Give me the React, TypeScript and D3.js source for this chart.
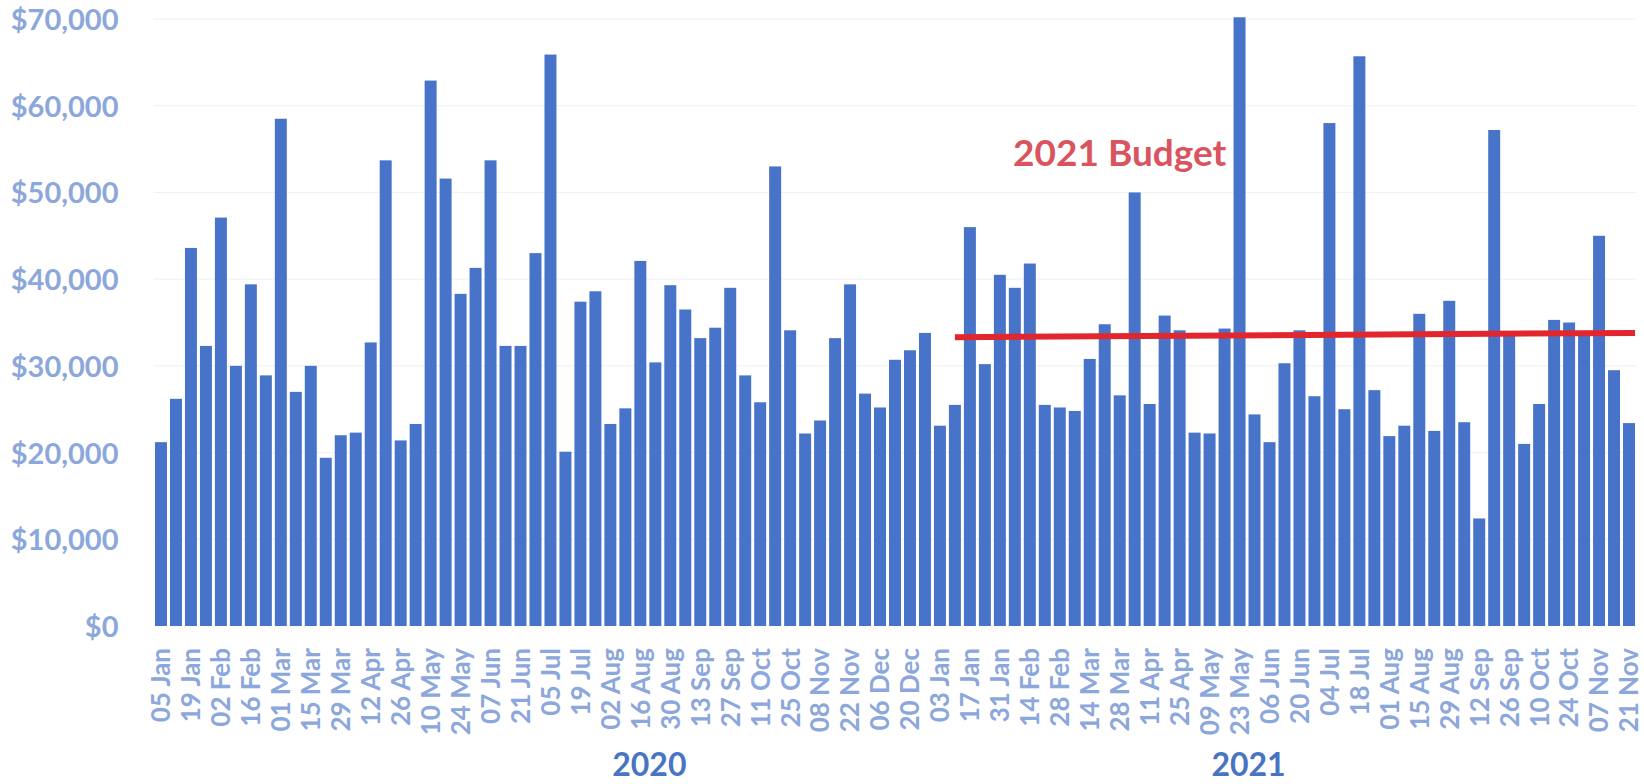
import * as d3 from "d3";
import * as React from "react";

// weekly spend, one bar per week starting Sun 05 Jan 2020
const firstWeek = new Date(Date.UTC(2020, 0, 5));
const weekCount = 99;

const spend = [
    21200, 26200, 43600, 32300, 47100, 30000, 39400, 28900, 58500, 27000,
    30000, 19400, 22000, 22300, 32700, 53700, 21400, 23300, 62900, 51600,
    38300, 41300, 53700, 32300, 32300, 43000, 65900, 20100, 37400, 38600,
    23300, 25100, 42100, 30400, 39300, 36500, 33200, 34400, 39000, 28900,
    25800, 53000, 34100, 22200, 23700, 33200, 39400, 26800, 25200, 30700,
    31800, 33800, 23100, 25500, 46000, 30200, 40500, 39000, 41800, 25500,
    25200, 24800, 30800, 34800, 26600, 50000, 25600, 35800, 34100, 22300,
    22200, 34300, 70200, 24400, 21200, 30300, 34100, 26500, 58000, 25000,
    65700, 27200, 21900, 23100, 36000, 22500, 37500, 23500, 12400, 57200,
    33600, 21000, 25600, 35300, 35000, 33900, 45000, 29500, 23400,
];

const yTicks = [0, 10000, 20000, 30000, 40000, 50000, 60000, 70000];

const budget = [
    { week: "2021-01-10", value: 33300 },
    { week: "2021-11-21", value: 33800 },
];
const budgetLabel = { text: "2021 Budget", week: "2021-03-28", value: 53000 };

const years = [
    { label: "2020", week: "2020-08-23" },
    { label: "2021", week: "2021-05-30" },
];

const width = 1644;
const height = 784;
const font = "Lato, 'Open Sans', sans-serif";

export default class App extends React.Component<{}, {}> {
    mountRef: HTMLDivElement;

    componentDidMount() {
        const iso = d3.utcFormat("%Y-%m-%d");
        const weeks = d3.utcWeek.range(firstWeek, d3.utcWeek.offset(firstWeek, weekCount));
        const data = weeks.map((w, i) => ({ key: iso(w), date: w, value: spend[i] }));

        const x = d3.scaleBand<string>()
            .domain(data.map(d => d.key))
            .range([153.5, 1636.5])
            .paddingInner(0.2)
            .paddingOuter(0.1);

        const y = d3.scaleLinear()
            .domain([0, 70000])
            .range([626, 19]);

        d3.select(this.mountRef).selectAll("*").remove();
        const svg = d3.select(this.mountRef)
            .append("svg")
            .attr("width", width)
            .attr("height", height)
            .style("position", "absolute")
            .style("left", 0)
            .style("top", 0)
            .style("background", "#fff");

        // faint gridlines
        svg.append("g")
            .selectAll("line")
            .data(yTicks.slice(1))
            .join("line")
            .attr("x1", x.range()[0])
            .attr("x2", x.range()[1])
            .attr("y1", d => y(d))
            .attr("y2", d => y(d))
            .attr("stroke", "#eef0f5")
            .attr("stroke-width", 1);

        svg.append("g").call(g => g
            .attr("transform", `translate(${x.range()[0] - 32},0)`)
            .call(d3.axisLeft(y)
                .tickValues(yTicks)
                .tickSize(0)
                .tickFormat((n: number) => d3.format("$,")(n)))
            .call(g => g.selectAll(".domain").remove())
            .call(g => g.selectAll("text")
                .attr("fill", "#8ca7db")
                .attr("font-family", font)
                .attr("font-weight", 700)
                .attr("font-size", 29)
                .attr("dy", "0.36em")));

        svg.append("g")
            .selectAll("rect")
            .data(data)
            .join("rect")
            .attr("x", d => x(d.key)!)
            .attr("width", x.bandwidth())
            .attr("y", d => y(d.value))
            .attr("height", d => y(0) - y(d.value))
            .attr("fill", "#4774c8");

        const fmt = d3.utcFormat("%d %b");
        svg.append("g").call(g => g
            .attr("transform", `translate(0,${y(0) + 22})`)
            .call(d3.axisBottom(x)
                .tickValues(data.filter((d, i) => i % 2 === 0).map(d => d.key))
                .tickSize(0)
                .tickFormat(k => fmt(new Date(k + "T00:00:00Z"))))
            .call(g => g.selectAll(".domain").remove())
            .call(g => g.selectAll("text")
                .attr("fill", "#8ca7db")
                .attr("font-family", font)
                .attr("font-weight", 700)
                .attr("font-size", 26)
                .attr("text-anchor", "end")
                .attr("transform", "rotate(-90)")
                .attr("x", 0)
                .attr("y", 0)
                .attr("dy", "0.36em")));

        svg.append("g")
            .selectAll("text")
            .data(years)
            .join("text")
            .attr("x", d => x(d.week)!)
            .attr("y", 776)
            .attr("text-anchor", "middle")
            .attr("fill", "#4874c4")
            .attr("font-family", font)
            .attr("font-weight", 700)
            .attr("font-size", 32)
            .text(d => d.label);

        const line = d3.line<{ week: string, value: number }>()
            .x((d, i) => i === 0 ? x(d.week)! + x.bandwidth() / 2 : x(d.week)! + x.bandwidth())
            .y(d => y(d.value));

        svg.append("path")
            .datum(budget)
            .attr("d", line)
            .attr("fill", "none")
            .attr("stroke", "#e2262d")
            .attr("stroke-width", 6);

        svg.append("text")
            .attr("x", x(budgetLabel.week)! + x.bandwidth() / 2)
            .attr("y", y(budgetLabel.value))
            .attr("text-anchor", "middle")
            .attr("fill", "#d9545f")
            .attr("font-family", font)
            .attr("font-weight", 700)
            .attr("font-size", 37)
            .text(budgetLabel.text);
    }

    render() {
        return <div ref={ref => { this.mountRef = ref!; }} />;
    }
}
